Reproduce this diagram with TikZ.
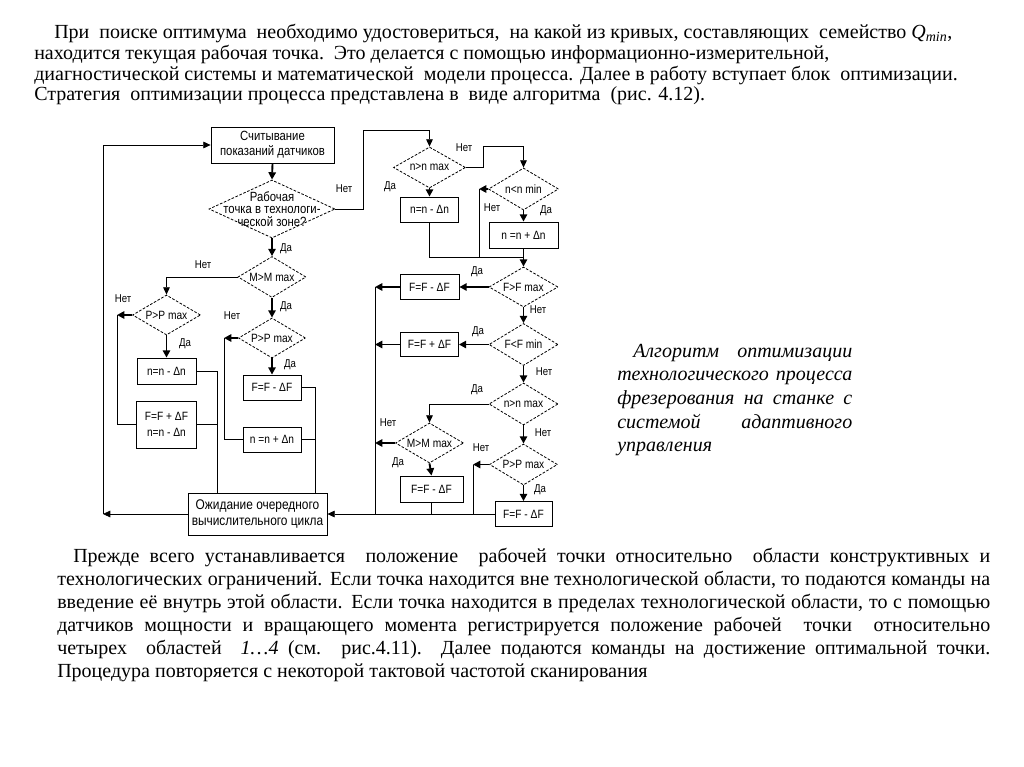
\documentclass[tikz,border=0pt]{standalone}
\usepackage{fontspec}
\setmainfont{Liberation Serif}
\newfontfamily\chartfont{Liberation Sans}[FakeStretch=0.85]
\usetikzlibrary{shapes.geometric, arrows.meta}

\begin{document}
\begin{tikzpicture}[x=0.75pt, y=-0.75pt,
  box/.style={draw, line width=0.6pt, inner sep=0pt, align=center, font=\chartfont\fontsize{9}{10}\selectfont},
  dia/.style={diamond, draw, dash pattern=on 2pt off 1.2pt, line width=0.6pt, inner sep=0pt},
  dtext/.style={inner sep=0pt, align=center, font=\chartfont\fontsize{9}{10}\selectfont},
  yn/.style={inner sep=0pt, font=\chartfont\fontsize{8.5}{9}\selectfont},
  conn/.style={line width=0.6pt},
  arr/.style={line width=0.6pt, -{Triangle[length=5.5pt, width=5pt]}},
  barr/.style={line width=1.4pt, -{Triangle[length=5.5pt, width=5.5pt]}},
  txt/.style={anchor=base west, inner sep=0pt, font=\fontsize{15}{17}\selectfont},
  captxt/.style={anchor=base west, inner sep=0pt, font=\itshape\fontsize{15}{17}\selectfont}]
\fill[white] (0,0) rectangle (1024,767);
\useasboundingbox (0,0) rectangle (1024,767);

% upper text
\node[txt] (t1) at (54,39) {При\ \ поиске оптимума\ \ необходимо удостовериться,\ \ на какой из кривых, составляющих\ \ семейство \textit{Q}\textsubscript{\textit{min}},};
\node[txt] (t2) at (34,60) {находится текущая рабочая точка.\ \ Это делается с помощью информационно-измерительной,};
\node[txt] (t3) at (34,80) {диагностической системы и математической\ \ модели процесса. Далее в работу вступает блок\ \ оптимизации.};
\node[txt] (t4) at (34,100) {Стратегия\ \ оптимизации процесса представлена в\ \ виде алгоритма\ \ (рис. 4.12).};

% left part
\node[box, minimum width=92.25pt, minimum height=27pt, font=\chartfont\fontsize{10}{11}\selectfont] (read) at (272.5,145) {Считывание\\показаний датчиков};
\node[dia, minimum width=94.5pt, minimum height=43.5pt,
  label={[dtext, font=\chartfont\fontsize{10}{9.5}\selectfont]center:{Рабочая\\точка в технологи-\\ческой зоне?}}] (zone) at (272,209) {};
\node[dia, minimum width=51pt, minimum height=30.75pt, label={[dtext]center:M>M max}] (mmax1) at (272,277) {};
\node[dia, minimum width=51pt, minimum height=30pt, label={[dtext]center:P>P max}] (pmax1) at (166.5,315) {};
\node[box, minimum width=44.25pt, minimum height=19.5pt] (ndec1) at (166.5,371) {n=n - Δn};
\node[box, minimum width=45pt, minimum height=35.25pt] (fn1) at (166.5,424.5) {F=F + ΔF\\[2pt]n=n - Δn};
\node[dia, minimum width=50.25pt, minimum height=30pt, label={[dtext]center:P>P max}] (pmax2) at (272,338) {};
\node[box, minimum width=43.5pt, minimum height=18.75pt] (fdec1) at (272,387.5) {F=F - ΔF};
\node[box, minimum width=43.5pt, minimum height=18.75pt] (ninc1) at (272,439.5) {n =n + Δn};
\node[box, minimum width=104.25pt, minimum height=31.5pt, font=\chartfont\fontsize{10.5}{12.5}\selectfont] (wait) at (257.5,514) {Ожидание очередного\\вычислительного цикла};

% right part
\node[dia, minimum width=54pt, minimum height=30.75pt, label={[dtext]center:n>n max}] (nmax1) at (429.5,167.5) {};
\node[box, minimum width=43.5pt, minimum height=18.75pt] (ndec2) at (429.5,209.5) {n=n - Δn};
\node[dia, minimum width=52.5pt, minimum height=31.5pt, label={[dtext]center:n<n min}] (nmin) at (523.5,189) {};
\node[box, minimum width=51.75pt, minimum height=19.5pt] (ninc2) at (523.5,235) {n =n + Δn};
\node[dia, minimum width=51.75pt, minimum height=30pt, label={[dtext]center:F>F max}] (fmax) at (523.5,287) {};
\node[box, minimum width=44.25pt, minimum height=18.75pt] (fdec2) at (429.5,287) {F=F - ΔF};
\node[dia, minimum width=51.75pt, minimum height=31.5pt, label={[dtext]center:F<F min}] (fmin) at (523.5,344.5) {};
\node[box, minimum width=43.5pt, minimum height=18pt] (finc) at (429.5,344.5) {F=F + ΔF};
\node[dia, minimum width=51.75pt, minimum height=31.5pt, label={[dtext]center:n>n max}] (nmax2) at (523.5,404) {};
\node[dia, minimum width=51pt, minimum height=30pt, label={[dtext]center:M>M max}] (mmax2) at (429.5,443) {};
\node[box, minimum width=47.25pt, minimum height=19.5pt] (fdec3) at (431.5,489) {F=F - ΔF};
\node[dia, minimum width=51pt, minimum height=30.75pt, label={[dtext]center:P>P max}] (pmax3) at (523.5,464.5) {};
\node[box, minimum width=42.75pt, minimum height=18.75pt] (fdec4) at (523.5,514) {F=F - ΔF};

\coordinate (loopL) at (103,514);
\coordinate (p1L) at (117,315);
\coordinate (p2L) at (224,338);
\coordinate (w1) at (217,493);
\coordinate (w2) at (315,493);
\coordinate (z1) at (363,130);
\coordinate (n1) at (483,146);
\coordinate (nL) at (479,189);
\coordinate (m1) at (523.5,257);
\coordinate (vL) at (375,287);
\coordinate (pL3) at (473,464.5);

% connectors, left part
\draw[arr] (wait.west) -- (loopL);
\draw[arr] (loopL) |- (read.west);
\draw[barr] (read.south) -- (zone.north);
\draw[barr] (zone.south) -- (mmax1.north);
\draw[arr] (mmax1.west) -| (pmax1.north);
\draw[barr] (mmax1.south) -- (pmax2.north);
\draw[barr] (pmax1.west) -- (p1L);
\draw[conn] (p1L) |- (fn1.west);
\draw[barr] (pmax1.south) -- (ndec1.north);
\draw[conn] (ndec1.east) -| (w1);
\draw[conn] (fn1.east) -- (fn1.east -| w1);
\draw[barr] (pmax2.west) -- (p2L);
\draw[conn] (p2L) |- (ninc1.west);
\draw[barr] (pmax2.south) -- (fdec1.north);
\draw[conn] (fdec1.east) -| (w2);
\draw[conn] (ninc1.east) -- (ninc1.east -| w2);

% connectors, right part
\draw[arr] (zone.east) -| (z1) -| (nmax1.north);
\draw[arr] (nmax1.east) -| (n1) -| (nmin.north);
\draw[barr] (nmax1.south) -- (ndec2.north);
\draw[conn] (ndec2.south) |- (m1);
\draw[barr] (nmin.west) -- (nL);
\draw[conn] (nL) -- (nL |- m1);
\draw[barr] (nmin.south) -- (ninc2.north);
\draw[barr] (ninc2.south) -- (fmax.north);
\draw[barr] (fmax.west) -- (fdec2.east);
\draw[barr] (fdec2.west) -- (vL);
\draw[conn] (vL) -- (vL |- wait.east);
\draw[barr] (fmax.south) -- (fmin.north);
\draw[barr] (fmin.west) -- (finc.east);
\draw[barr] (finc.west) -- (finc.west -| vL);
\draw[barr] (fmin.south) -- (nmax2.north);
\draw[arr] (nmax2.west) -| (mmax2.north);
\draw[barr] (nmax2.south) -- (pmax3.north);
\draw[barr] (mmax2.west) -- (mmax2.west -| vL);
\draw[barr] (mmax2.south) -- (fdec3.north);
\draw[conn] (fdec3.south) -- (fdec3.south |- fdec4.west);
\draw[barr] (pmax3.west) -- (pL3);
\draw[conn] (pL3) -- (pL3 |- fdec4.west);
\draw[barr] (pmax3.south) -- (fdec4.north);
\draw[arr] (fdec4.west) -- (wait.east);

% yes / no
\foreach \x/\y/\t [count=\i] in {344/189/Нет, 286/249/Да, 203/265/Нет, 286/307/Да,
  123/299/Нет, 185/344/Да, 232/316/Нет, 290/365/Да, 464/148/Нет, 390/187/Да,
  492/208/Нет, 546/211/Да, 477/272/Да, 538/310/Нет, 478/332/Да, 544/372/Нет,
  477/390/Да, 543/433/Нет, 388/423/Нет, 398/463/Да, 481/448/Нет, 540/490/Да} {
  \node[yn] (yn\i) at (\x,\y) {\t};
}

% caption
\node[captxt] (c1) at (633,357) {\makebox[164.25pt][s]{Алгоритм оптимизации}};
\node[captxt] (c2) at (617,380) {\makebox[176.25pt][s]{технологического процесса}};
\node[captxt] (c3) at (617,404) {\makebox[176.25pt][s]{фрезерования на станке с}};
\node[captxt] (c4) at (617,428) {\makebox[176.25pt][s]{системой адаптивного}};
\node[captxt] (c5) at (617,451) {управления};

% lower text
\node[txt] (b1) at (73,562) {\makebox[687.75pt][s]{Прежде всего устанавливается\ \ положение\ \ рабочей точки относительно\ \ области конструктивных и}};
\node[txt] (b2) at (57,585) {\makebox[699.75pt][s]{технологических ограничений. Если точка находится вне технологической области, то подаются команды на}};
\node[txt] (b3) at (57,608) {\makebox[699.75pt][s]{введение её внутрь этой области. Если точка находится в пределах технологической области, то с помощью}};
\node[txt] (b4) at (57,631) {\makebox[699.75pt][s]{датчиков мощности и вращающего момента регистрируется положение рабочей\ \ точки\ \ относительно}};
\node[txt] (b5) at (57,654) {\makebox[699.75pt][s]{четырех\ \ областей\ \ \textit{1…4} (см. рис.4.11).\ \ Далее подаются команды на достижение оптимальной точки.}};
\node[txt] (b6) at (57,677) {Процедура повторяется с некоторой тактовой частотой сканирования};
\end{tikzpicture}
\end{document}
